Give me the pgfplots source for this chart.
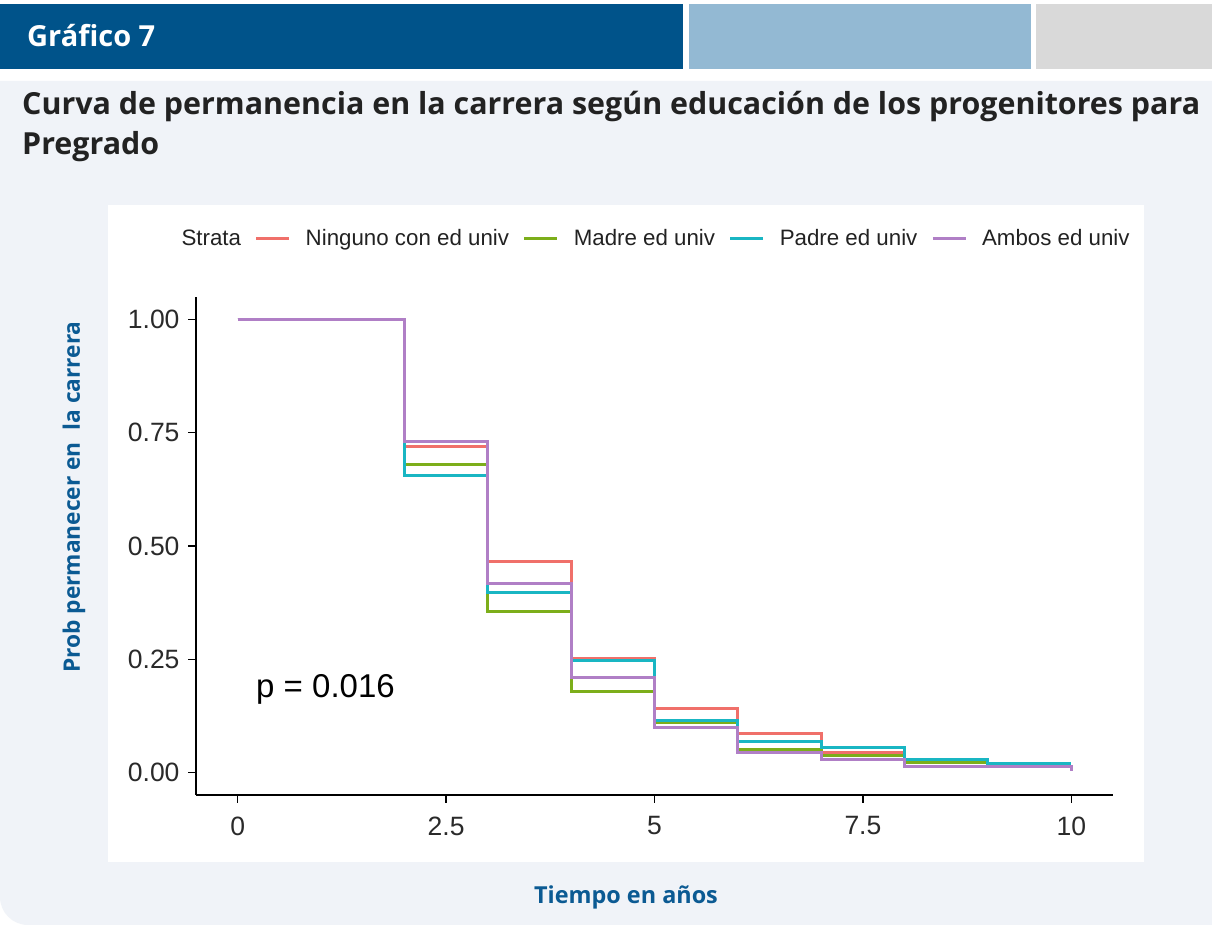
\documentclass[border=0pt]{standalone}
\usepackage{fontspec}
\setmainfont{Open Sans}
\newfontfamily\arial{Liberation Sans}
\usepackage{pgfplots}
\pgfplotsset{compat=1.18}
\definecolor{hdrblue}{HTML}{00538A}
\definecolor{hdrlight}{HTML}{93B9D3}
\definecolor{hdrgray}{HTML}{D9D9D9}
\definecolor{panelbg}{HTML}{F0F3F8}
\definecolor{titlecol}{HTML}{222222}
\definecolor{labblue}{HTML}{0B5A93}
\definecolor{sred}{HTML}{F0706A}
\definecolor{sgreen}{HTML}{7CAE1A}
\definecolor{scyan}{HTML}{19B6C3}
\definecolor{spurple}{HTML}{B07FC6}
\definecolor{ticktxt}{HTML}{2A2A2A}

\pgfplotstableread{
x y
0 1
2 0.719
3 0.465
4 0.252
5 0.141
6 0.086
7 0.044
8 0.024
9 0.017
10 0.017
}\tblred
\pgfplotstableread{
x y
0 1
2 0.680
3 0.356
4 0.179
5 0.110
6 0.051
7 0.037
8 0.022
9 0.017
10 0.017
}\tblgreen
\pgfplotstableread{
x y
0 1
2 0.656
3 0.398
4 0.246
5 0.114
6 0.069
7 0.055
8 0.029
9 0.020
10 0.020
}\tblcyan
\pgfplotstableread{
x y
0 1
2 0.730
3 0.418
4 0.210
5 0.099
6 0.044
7 0.028
8 0.013
9 0.013
10 0.013
10 0.002
}\tblpurple

\begin{document}
\begin{tikzpicture}[x=1bp,y=1bp]
\path[use as bounding box] (0,0) rectangle (1212,925);
\fill[white] (0,0) rectangle (1212,925);
\fill[panelbg] (0,844) -- (1212,844) -- (1212,0) -- (28,0) arc[start angle=270,end angle=180,radius=28] -- cycle;
\fill[hdrblue] (0,856) rectangle (683,921);
\fill[hdrlight] (689,856) rectangle (1031,921);
\fill[hdrgray] (1036,856) rectangle (1212,921);
\node[anchor=base west, inner sep=0, text=white, font=\bfseries\fontsize{29bp}{34bp}\selectfont] at (27,878) {Gráfico 7};
\node[anchor=base west, inner sep=0, text=titlecol, font=\bfseries\fontsize{30.4bp}{41bp}\selectfont] at (22,810) {Curva de permanencia en la carrera según educación de los progenitores para};
\node[anchor=base west, inner sep=0, text=titlecol, font=\bfseries\fontsize{30.4bp}{41bp}\selectfont] at (22,770) {Pregrado};
\fill[white] (108,63) rectangle (1144,720);
\node[rotate=90, inner sep=0, text=labblue, font=\bfseries\fontsize{22.7bp}{26bp}\selectfont] at (74,428) {Prob permanecer en\ \ la carrera};
\node[inner sep=0, text=labblue, font=\bfseries\fontsize{23.4bp}{27bp}\selectfont] at (626,28) {Tiempo en años};

\begin{axis}[
  at={(196bp,130bp)}, anchor=south west,
  scale only axis, width=917bp, height=498bp,
  xmin=-0.5, xmax=10.5, ymin=-0.05, ymax=1.05,
  axis x line=bottom, axis y line=left,
  axis line style={-, black, line width=1.4bp},
  xtick={0,2.5,5,7.5,10}, xticklabels={0,2.5,5,7.5,10},
  ytick={0,0.25,0.5,0.75,1}, yticklabels={0.00,0.25,0.50,0.75,1.00},
  tick align=outside, major tick length=8bp,
  tick style={black, line width=1.2bp},
  ticklabel style={font=\arial\fontsize{26.5bp}{30bp}\selectfont, text=ticktxt},
  xticklabel style={yshift=-10bp},
  yticklabel style={xshift=-5bp},
  legend columns=-1,
  legend style={at={(rel axis cs:0.493,1.118)}, anchor=center, draw=none, fill=none,
    font=\arial\fontsize{22.3bp}{26bp}\selectfont, text=titlecol,
    nodes={inner xsep=0bp},
    /tikz/every odd column/.append style={column sep=15bp},
    /tikz/every even column/.append style={column sep=14bp}},
  legend image code/.code={\draw[#1, line width=2.7bp] (0bp,0bp) -- (33bp,0bp);},
  clip=false,
]
\addlegendimage{empty legend}
\addlegendentry{Strata}
\addplot[const plot, sred, line width=3bp] table[x=x,y=y] {\tblred};
\addlegendentry{Ninguno con ed univ}
\addplot[const plot, sgreen, line width=3bp] table[x=x,y=y] {\tblgreen};
\addlegendentry{Madre ed univ}
\addplot[const plot, scyan, line width=3bp] table[x=x,y=y] {\tblcyan};
\addlegendentry{Padre ed univ}
\addplot[const plot, spurple, line width=3bp] table[x=x,y=y] {\tblpurple};
\addlegendentry{Ambos ed univ}
\node[anchor=west, inner sep=0, font=\arial\fontsize{33bp}{37bp}\selectfont, text=black] at (axis cs:0.22,0.184) {p = 0.016};
\end{axis}
\end{tikzpicture}
\end{document}
